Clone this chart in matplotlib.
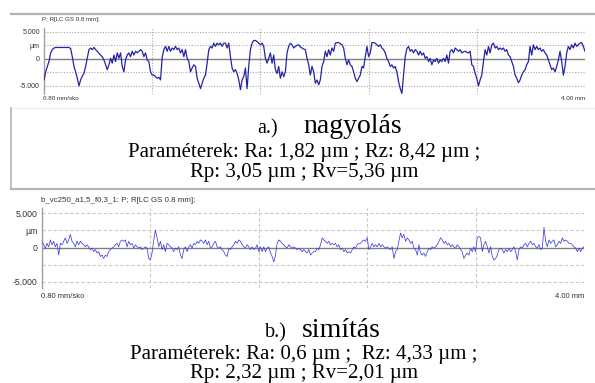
import numpy as np
import matplotlib
matplotlib.use("Agg")
import matplotlib.pyplot as plt

PROFILE_LENGTH_MM = 4.0
X_TICKS_MM = [0.0, 0.8, 1.6, 2.4, 3.2, 4.0]
Y_GRID_UM = [-5.0, -2.5, 2.5, 5.0]
Y_TICK_LABELS = {5.0: "5.000", 2.5: "µm", 0.0: "0", -5.0: "-5.000"}

# a.) nagyolás (roughing)
profile_a = [
    -3.9, -2.4, -1.4, -0.5, 1.1, 1.7, 2.0, 2.1, 2.1, 2.1, 2.1, 2.1, 2.1, 2.1, 2.1, 2.1,
    1.9, 0.4, -1.4, -2.4, -3.6, -5.0, -3.9, -3.2, -2.7, -1.4, 0.1, 1.7, 2.0, 1.7, 2.1, 1.7,
    1.4, 1.0, 0.7, 0.4, -0.2, -1.1, -2.0, -1.1, 0.1, -0.8, 0.7, -0.5, 1.1, 0.1, 1.1, -1.4,
    -2.4, -0.2, 0.7, 1.1, 0.4, 1.4, 0.7, 1.4, 1.1, 1.4, 1.7, 1.4, 0.4, 1.1, -0.2, -0.5,
    -2.4, -3.0, -3.0, -3.3, -3.6, -3.4, -3.9, 0.3, 1.7, 2.3, 1.4, 2.3, 1.4, 2.0, 1.7, 2.3,
    1.7, 2.0, 1.1, 1.7, 0.4, 1.7, 0.1, -0.5, -2.4, -1.7, -1.1, -1.4, -3.6, -4.5, -5.5, -4.5,
    -3.6, -3.0, -0.8, 1.7, 2.3, 2.0, 2.9, 2.3, 2.9, 2.6, 2.9, 2.3, 2.9, 2.9, 2.0, 2.9,
    0.4, -1.7, -2.4, -2.0, -2.7, -3.9, -5.7, -3.9, -3.3, -1.7, -5.5, -1.4, 1.7, 2.9, 3.4, 3.4,
    3.2, 2.9, 2.6, 2.9, 2.3, 0.1, -0.8, 0.1, 1.1, -0.8, 0.7, -2.0, -2.7, -1.4, -3.6, -2.4,
    -3.3, -2.4, 1.1, 2.3, 2.9, 2.6, 2.0,
    2.3, 2.5, 2.6, 2.2, 2.0, 1.8, 1.7, 0.1, -1.1, -3.0, -1.4, -2.4, -4.5, -3.9, -4.8, -3.9,
    -1.4, -0.5, 1.4, 0.4, 1.7, 0.7, 2.0, 1.4, 2.9, 3.0, 3.0, 2.8, 2.6, 2.0, 0.1, -1.1,
    -0.2, -1.1, -1.4, -2.4, -3.6, -4.2, -3.6, -3.0, -1.4, -1.7, 0.4, 2.3, 0.4, 1.1, 3.0, 3.0,
    2.9, 2.6, 2.3, 2.6, 2.0, 1.7, 1.1, 0.1, -0.5, -1.4, -1.1, -1.7, -1.4, -2.4, -4.2, -5.5,
    -6.4, -3.0, 0.4, 1.9, 2.3, 1.4, 1.7, 1.1, 1.7, 1.4, 0.7, 1.4, 0.7, 1.1, 0.1, 0.4,
    -0.5, 0.1, -1.1, -0.2, -0.5, 0.1, -0.8, -0.2, -0.5, 0.1, -0.5, 0.7, -0.8, 1.4, 1.7, 1.1,
    2.0, 1.7, 1.4, 1.7, 1.1, 1.3, 1.4, 1.2, 1.1, 1.4, -1.1, -1.4, -2.7, -3.6, -5.0, -3.9,
    -3.0, -0.5, 1.7, 0.7, 2.3, 1.1, 2.6, 2.9, 2.0, 2.3, 1.7, 2.0, 1.7, 2.0, 1.4, 1.7,
    0.7, 0.4, -0.5, -1.4, -3.0, -3.6, -4.4, -3.9, -3.0, -2.4, -2.0, -1.1, -0.5, 2.3, 0.7, 2.6,
    1.7, 2.3, 1.7, 2.0, 1.4, 1.7, 1.1, 0.7, -0.2, -1.1, -2.0, -1.7, -2.4, -1.4, -0.2, 1.4,
    -0.5, -3.0, -1.4, 1.1, 2.3, 1.7, 2.6, 2.0, 2.9, 2.3, 2.6, 2.9, 3.0, 2.3, 1.4,
]

# b.) simítás (finishing)
profile_b = [
    0.9, 0.4, -0.1, 0.6, 0.1, 1.1, 0.4, 0.9, 0.1, 0.6, -1.1, 0.6, 0.4, 0.9, 1.4, 0.6,
    1.1, 1.9, 0.9, 0.6, 0.1, 0.9, 0.4, 0.9, 0.6, 0.4, 0.1, 0.4, 0.1, -0.3, -0.1, -0.6,
    -0.3, -0.8, -0.6, -1.3, -1.1, -1.6, -1.1, -1.3, -0.6, -0.3, -0.1, 0.1, 0.4, 0.6, 0.1, 0.9,
    1.1, 0.9, 1.1, 0.1, 0.9, 0.4, 0.6, -0.1, 0.4, 0.1, -0.1, 0.1, -0.3, -0.1, 0.1, -0.1,
    -1.6, -1.8, -0.8, 1.1, 2.5, 1.4, 0.1, 0.9, -0.3, 0.4, -0.6, 0.6, 0.4, 0.1, -0.1, -0.6,
    -0.1, -0.3, 0.1, -1.1, -1.6, -0.3, 0.1, -0.6, 0.1, 0.4, -0.1, 0.6, 0.4, 0.9, 0.6, 1.1,
    0.9, 0.6, 1.1, 0.4, 0.9, -0.1, 0.1, 0.6, 0.9, 0.1, -0.1, 0.1, -0.3, -0.6, -1.1, -1.3,
    -0.1, -0.3, 0.1, 0.4, 0.9, 0.6, 1.1, 0.9, 0.4, 0.1, -0.1, 0.4, 0.1, -0.3, 0.1, -0.3,
    -0.1, 0.4, -0.6, 0.1, -0.6, 0.1, -0.6, -0.1, 0.1, -0.8, -1.3, -2.1, -1.1, 0.6, 1.1, 0.9,
    0.6, 0.4, 0.1, -0.1, 0.4, 0.1, -0.1, 0.1,
    -0.1, -0.3, -0.1, -0.3, -0.6, -0.3, -0.6, -0.8, -0.3, -1.1, -0.8, -0.6, -0.6, -0.1, -0.3, 0.4,
    1.4, 1.1, 0.9, 0.6, 0.9, 0.4, 0.6, 0.4, 0.6, 0.1, 0.4, -0.3, -0.1, -0.6, -0.3, -0.8,
    -0.6, -0.8, -0.3, 0.1, -0.1, 0.4, 0.6, 0.6, 0.9, 1.1, 0.9, 1.4, -0.3, 0.1, 0.6, 0.1,
    0.4, 0.1, 0.6, 0.1, 0.4, 0.1, -0.1, 0.1, -0.1, -0.3, 0.1, -1.6, -0.6, -0.3, 0.9, 2.1,
    1.4, 1.9, 0.9, 1.4, 1.1, 0.6, 0.9, -0.1, -0.3, -1.1, 0.4, -0.8, -1.1, -0.8, -1.3, -0.6,
    -0.1, -0.3, 0.1, -0.1, 0.1, 0.4, 0.9, 1.4, 1.1, 0.6, 0.9, 0.4, 0.6, 0.1, 0.4, 0.1,
    -0.1, 0.4, 0.1, -0.3, -0.6, -1.6, -1.1, -0.8, -1.1, -0.1, -0.6, 0.1, -0.6, 1.4, 1.6, 1.4,
    -0.6, 0.4, 0.9, 0.1, -0.8, 0.1, -1.3, -1.8, -1.6, -1.1, -0.3, -0.1, -0.3, -0.8, -0.3, -0.6,
    -0.1, -0.6, -0.3, 0.1, -0.6, -1.8, -0.3, 0.1, -0.1, 0.4, 0.6, 0.1, 0.6, 0.9, 0.4, 0.6,
    0.1, -0.1, 0.4, -0.3, -0.1, 2.9, 0.9, 0.1, 1.1, 0.6, 0.9, 1.1, 0.1, 0.4, 0.9, 0.6,
    1.4, 0.9, 1.1, 0.9, 0.6, 0.6, 0.4, 0.1, -0.1, -0.6, -0.1, -0.6, -0.1, 0.1,
]

title_a = "P; R[LC GS 0.8 mm];"
title_b = "b_vc250_a1,5_f0,3_1: P; R[LC GS 0.8 mm];"
caption_a = ("a.)", "nagyolás",
             "Paraméterek: Ra: 1,82 µm ; Rz: 8,42 µm ;",
             "Rp: 3,05 µm ; Rv=5,36 µm")
caption_b = ("b.)", "simítás",
             "Paraméterek: Ra: 0,6 µm ;  Rz: 4,33 µm ;",
             "Rp: 2,32 µm ; Rv=2,01 µm")

W, H = 595, 383
SANS = ["Liberation Sans", "DejaVu Sans"]
SERIF = ["Liberation Serif", "DejaVu Serif"]

fig = plt.figure(figsize=(W / 100, H / 100), dpi=100)
fig.patch.set_facecolor("white")


def px_axes(left, top, right, bottom):
    return fig.add_axes([left / W, 1 - bottom / H, (right - left) / W, (bottom - top) / H])


def draw_profile(ax, values, ylim, color, lw, grid_ls, grid_color, label_size):
    x = np.linspace(0, PROFILE_LENGTH_MM, len(values))
    ax.set_xlim(0, PROFILE_LENGTH_MM)
    ax.set_ylim(*ylim)
    for g in Y_GRID_UM:
        ax.axhline(g, color=grid_color, lw=0.8, ls=grid_ls, zorder=1)
    for t in X_TICKS_MM[1:]:
        ax.axvline(t, color=grid_color, lw=0.8, ls=grid_ls, zorder=1)
    ax.axhline(0, color="#808080", lw=1.0, zorder=2)
    ax.plot(x, values, color=color, lw=lw, zorder=3)
    for s in ["top", "right", "bottom"]:
        ax.spines[s].set_visible(False)
    ax.spines["left"].set_color("#a0a0a0")
    ax.spines["left"].set_linewidth(1.0)
    ax.set_xticks([])
    ax.set_yticks(list(Y_TICK_LABELS.keys()))
    ax.set_yticklabels(list(Y_TICK_LABELS.values()), family=SANS,
                       fontsize=label_size, color="#333333")
    ax.tick_params(axis="y", length=0, pad=3)
    ax.patch.set_alpha(0)


# profile a
ax_a = px_axes(44, 28, 585, 94)
draw_profile(ax_a, profile_a, (-6.5, 5.7), "#2424a8", 0.9, (0, (1, 1.5)), "#a8a8a8", 5)

# profile b
ax_b = px_axes(42, 207.5, 584, 287.5)
draw_profile(ax_b, profile_b, (-5.8, 5.8), "#4040e0", 0.55, (0, (3, 2)), "#c8c8c8", 6.3)

# overlay for frame lines and captions (pixel coordinates)
ov = fig.add_axes([0, 0, 1, 1])
ov.set_xlim(0, W)
ov.set_ylim(H, 0)
ov.axis("off")
ov.patch.set_alpha(0)

ov.plot([11, 595], [14, 14], color="#b4b4b4", lw=1.6)
ov.plot([11, 595], [108, 108], color="#efefef", lw=0.8)
ov.plot([11, 11], [108, 189], color="#b4b4b4", lw=1.2)
ov.plot([11, 595], [189, 189], color="#b4b4b4", lw=1.6)

# small chart labels
ov.text(42, 20, title_a, family=SANS, fontsize=4.4, color="#333333", va="center")
ov.text(43, 99, "0.80 mm/sko", family=SANS, fontsize=4.5, color="#333333", va="center")
ov.text(585, 99, "4.00 mm", family=SANS, fontsize=4.5, color="#333333", va="center", ha="right")
ov.text(41, 200, title_b, family=SANS, fontsize=5.7, color="#333333", va="center")
ov.text(41, 297, "0.80 mm/sko", family=SANS, fontsize=5.5, color="#333333", va="center")
ov.text(584, 297, "4.00 mm", family=SANS, fontsize=5.5, color="#333333", va="center", ha="right")


def draw_caption(cap, x_lab, x_name, y_title, y2, y3):
    lab, name, line2, line3 = cap
    ov.text(x_lab, y_title, lab, family=SERIF, fontsize=14.5, va="baseline")
    ov.text(x_name, y_title, name, family=SERIF, fontsize=20, va="baseline")
    ov.text(304, y2, line2, family=SERIF, fontsize=15, va="baseline", ha="center")
    ov.text(304, y3, line3, family=SERIF, fontsize=15, va="baseline", ha="center")


draw_caption(caption_a, 257, 303, 133, 157, 177)
draw_caption(caption_b, 265, 302, 337, 359, 378)

fig.savefig("out.png", dpi=100, facecolor="white")
